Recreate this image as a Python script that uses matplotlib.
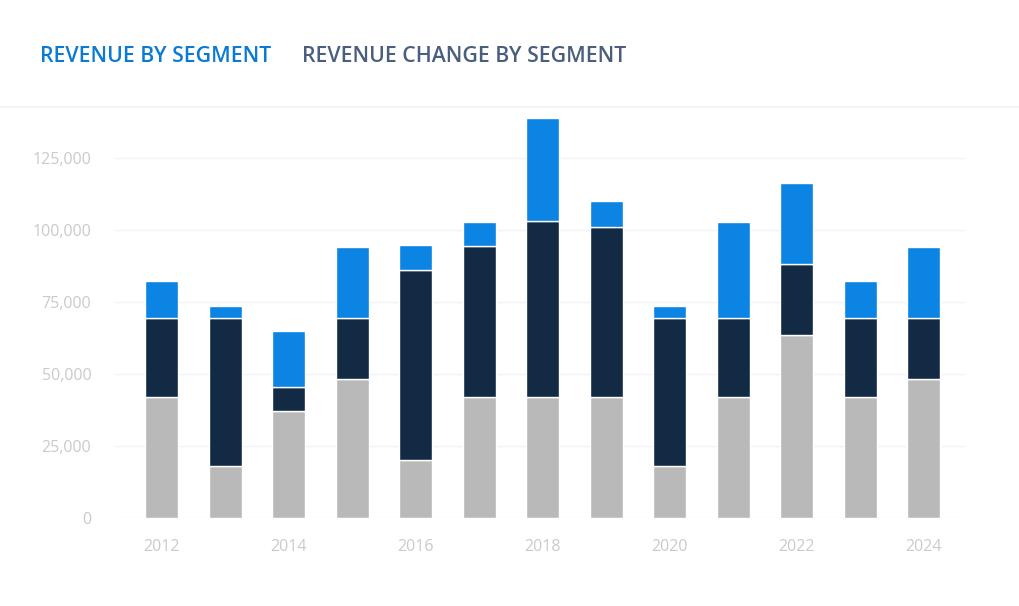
import matplotlib
matplotlib.use("Agg")
import matplotlib.pyplot as plt
from matplotlib.lines import Line2D

years = [2012, 2013, 2014, 2015, 2016, 2017, 2018, 2019, 2020, 2021, 2022, 2023, 2024]
gray_vals = [42000, 18000, 37000, 48300, 20100, 42000, 42000, 42000, 18000, 42000, 63500, 42000, 48300]
dark_vals = [27500, 51500, 8500, 21200, 66000, 52400, 61100, 59000, 51500, 27500, 24700, 27500, 21200]
blue_vals = [12800, 4100, 19400, 24600, 8700, 8400, 35800, 9100, 4100, 33300, 28100, 12800, 24600]
y_ticks = [0, 25000, 50000, 75000, 100000, 125000]
x_ticks = [2012, 2014, 2016, 2018, 2020, 2022, 2024]
tab_labels = ["REVENUE BY SEGMENT", "REVENUE CHANGE BY SEGMENT"]

plt.rcParams['font.family'] = ['Open Sans', 'DejaVu Sans']

W, H = 1020, 606
fig = plt.figure(figsize=(W / 100, H / 100), dpi=100)
fig.patch.set_facecolor('white')

ax = fig.add_axes([115 / W, (H - 518) / H, 850 / W, 408 / H])
ax.set_facecolor('white')

c_gray = '#b9b9b9'
c_dark = '#132a45'
c_blue = '#0b84e3'
bw = 0.52
bottom2 = [g for g in gray_vals]
bottom3 = [g + d for g, d in zip(gray_vals, dark_vals)]
ax.bar(years, gray_vals, width=bw, color=c_gray, edgecolor='white', linewidth=1, zorder=3)
ax.bar(years, dark_vals, width=bw, bottom=bottom2, color=c_dark, edgecolor='white', linewidth=1, zorder=3)
ax.bar(years, blue_vals, width=bw, bottom=bottom3, color=c_blue, edgecolor='white', linewidth=1, zorder=3)

ax.set_xlim(2011.26, 2024.65)
ax.set_ylim(0, 141667)
ax.set_yticks(y_ticks)
ax.set_yticklabels([f"{v:,}" for v in y_ticks])
ax.set_xticks(x_ticks)
ax.set_xticklabels([str(x) for x in x_ticks])
ax.tick_params(axis='both', length=0, colors='#cacaca', labelsize=11.5)
ax.tick_params(axis='y', pad=17)
ax.tick_params(axis='x', pad=15)
ax.grid(axis='y', color='#f0f3f7', linewidth=1, zorder=0)
for s in ax.spines.values():
    s.set_visible(False)

fig.text(40 / W, 1 - 57 / H, tab_labels[0], color='#0b7ad4', fontsize=15.3, fontweight='semibold', va='center', ha='left')
fig.text(302 / W, 1 - 57 / H, tab_labels[1], color='#4a5f7e', fontsize=15.3, fontweight='semibold', va='center', ha='left')
fig.add_artist(Line2D([0, 1], [1 - 107 / H, 1 - 107 / H], transform=fig.transFigure, color='#eef2f6', linewidth=1.2))

fig.savefig('out.png', dpi=100, facecolor='white')
